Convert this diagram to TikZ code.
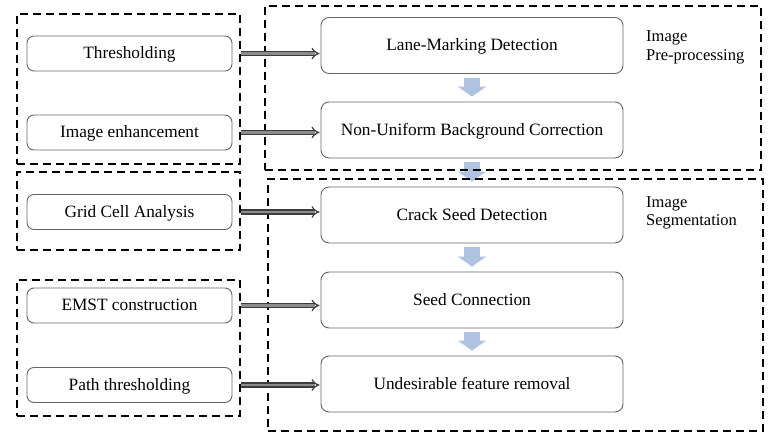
\documentclass[tikz,border=0pt]{standalone}
\usepackage{fontspec}
\setmainfont{Liberation Serif}
\usetikzlibrary{arrows.meta,calc}
\definecolor{boxline}{HTML}{666666}
\definecolor{blockblue}{HTML}{AFC2E0}
\definecolor{arrowdark}{HTML}{3C3C3C}
\definecolor{arrowfill}{HTML}{8C8C8C}
\tikzset{
  smallbox/.style={draw=boxline, line width=0.9pt, rounded corners=7pt, minimum width=205pt, minimum height=35pt, inner sep=0pt, text height=12pt, text depth=1pt, font=\fontsize{17.3}{20}\selectfont},
  mainbox/.style={draw=boxline, line width=0.9pt, rounded corners=8pt, minimum width=302pt, minimum height=56pt, inner sep=0pt, text height=12pt, text depth=1pt, font=\fontsize{17.3}{20}\selectfont},
  groupbox/.style={draw=black, line width=1.8pt, dash pattern=on 8pt off 5pt, inner sep=0pt},
  flowarrow/.style={line width=16pt, blockblue, -{Triangle[length=10pt,width=28pt]}, shorten <=4pt, shorten >=5pt},
  feedarrow/.style={draw=arrowdark, line width=1.2pt, double=arrowfill, double distance=2.8pt, -{Implies[length=5pt,width=10pt]}, shorten >=1pt},
  sidelabel/.style={anchor=north west, align=left, inner sep=0pt, font=\fontsize{16.5}{18.5}\selectfont}
}
\begin{document}
\begin{tikzpicture}[x=1pt,y=-1pt]
\useasboundingbox (0,0) rectangle (780,443);
% small boxes
\node[smallbox] (thr)  at (129.5,53.5) {Thresholding};
\node[smallbox] (enh)  at (129.5,132.5) {Image enhancement};
\node[smallbox] (grid) at (129.5,212) {Grid Cell Analysis};
\node[smallbox] (emst) at (129.5,305.5) {EMST construction};
\node[smallbox] (path) at (129.5,385) {Path thresholding};
% main boxes
\node[mainbox] (lane)  at (472,45.5) {Lane-Marking Detection};
\node[mainbox] (nonu)  at (472,130) {Non-Uniform Background Correction};
\node[mainbox] (crack) at (472,215) {Crack Seed Detection};
\node[mainbox] (seed)  at (472,300) {Seed Connection};
\node[mainbox] (und)   at (472,384) {Undesirable feature removal};
% block arrows
\draw[flowarrow] (lane.south) -- (nonu.north);
\draw[flowarrow] (nonu.south) -- (crack.north);
\draw[flowarrow] (crack.south) -- (seed.north);
\draw[flowarrow] (seed.south) -- (und.north);
% dashed group boxes
\node[groupbox, minimum width=223pt, minimum height=150pt] (g1) at (128.5,89) {};
\node[groupbox, minimum width=223pt, minimum height=78pt] (g2) at (128.5,211) {};
\node[groupbox, minimum width=223pt, minimum height=136pt] (g3) at (128.5,348) {};
\node[groupbox, minimum width=496pt, minimum height=164pt] (pre) at (513,88) {};
\node[groupbox, minimum width=495pt, minimum height=252pt] (seg) at (515.5,305) {};
% feed arrows
\draw[feedarrow] (g1.east |- thr) -- (lane.west |- thr);
\draw[feedarrow] (g1.east |- enh) -- (nonu.west |- enh);
\draw[feedarrow] (g2.east |- grid) -- (crack.west |- grid);
\draw[feedarrow] (g3.east |- emst) -- (seed.west |- emst);
\draw[feedarrow] (g3.east |- path) -- (und.west |- path);
% labels
\node[sidelabel] (prelabel) at (646,31) {Image\\Pre-processing};
\node[sidelabel] (seglabel) at (646,196) {Image\\Segmentation};
\end{tikzpicture}
\end{document}
